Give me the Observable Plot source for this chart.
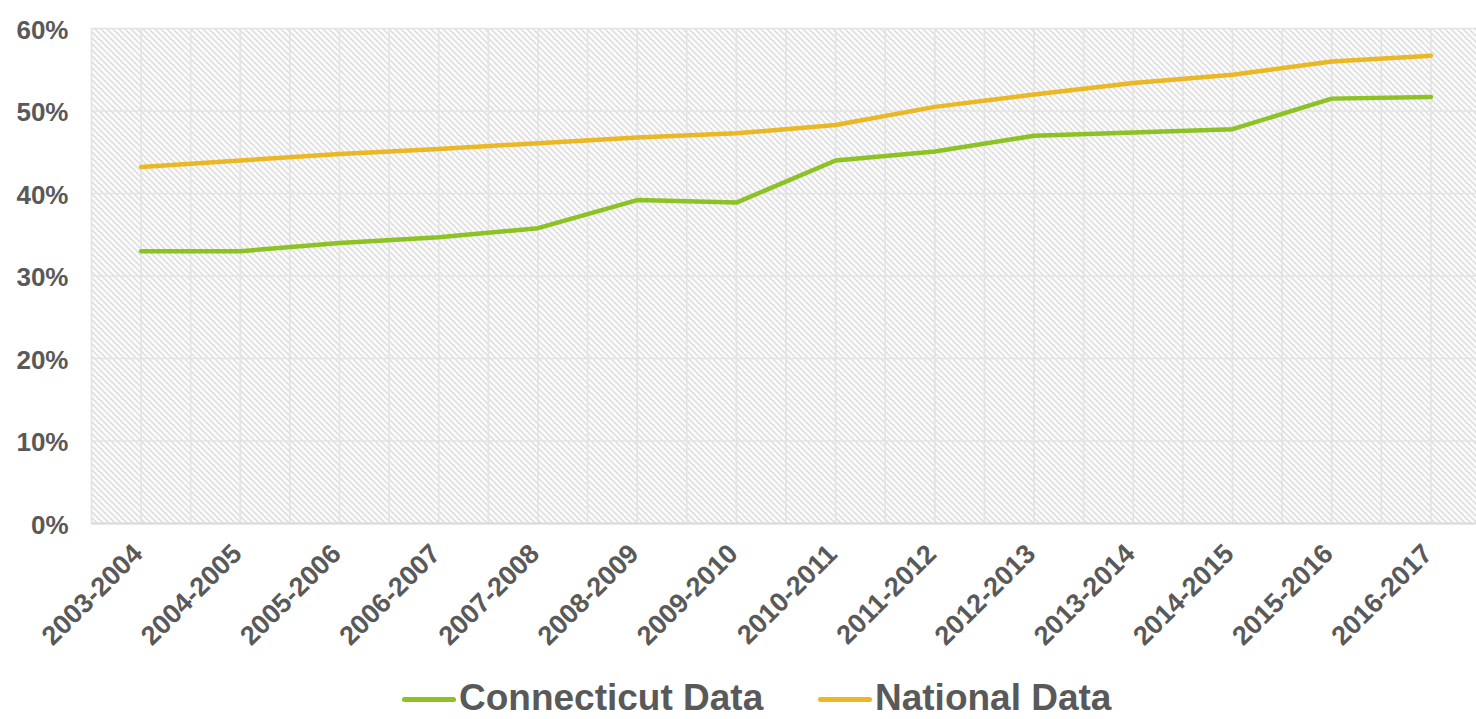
<!DOCTYPE html>
<html>
<head>
<meta charset="utf-8">
<script src="https://cdn.jsdelivr.net/npm/d3@7"></script>
<script src="https://cdn.jsdelivr.net/npm/@observablehq/plot@0.6"></script>
<style>
  html, body { margin: 0; padding: 0; background: #fff; }
  #wrap { width: 1476px; height: 719px; position: relative; overflow: hidden; }
  #legend { position: absolute; left: 0; top: 677px; height: 42px; width: 1476px;
    font-family: "Liberation Sans", Arial, sans-serif; font-weight: bold; font-size: 37px; color: #595959; }
  .item { position: absolute; top: 0; height: 42px; display: flex; align-items: center; white-space: nowrap; }
  .swatch { width: 54px; height: 5px; border-radius: 2.5px; margin-right: 3px; margin-top: 2px; }
  .lab { line-height: normal; }
</style>
</head>
<body>
<div id="wrap"><div id="chart"></div><div id="legend"></div></div>
<script>
const categories = ["2003-2004","2004-2005","2005-2006","2006-2007","2007-2008","2008-2009","2009-2010","2010-2011","2011-2012","2012-2013","2013-2014","2014-2015","2015-2016","2016-2017"];
const connecticut = [33.0, 33.0, 34.0, 34.7, 35.8, 39.2, 38.9, 44.0, 45.1, 47.0, 47.4, 47.8, 51.5, 51.7];
const national = [43.2, 44.0, 44.8, 45.4, 46.1, 46.8, 47.3, 48.3, 50.5, 52.0, 53.4, 54.4, 56.0, 56.7];
const yTicks = [0, 10, 20, 30, 40, 50, 60];
const seriesNames = ["Connecticut Data", "National Data"];
const seriesColors = ["#8cc224", "#e9b824"];

const ctData = categories.map((c, i) => ({i, v: connecticut[i]}));
const natData = categories.map((c, i) => ({i, v: national[i]}));
const gridX = d3.range(-0.5, categories.length, 0.5);

const hatchDefs = () => {
  const defs = d3.create("svg:defs");
  const p = defs.append("pattern").attr("id", "hatch").attr("patternUnits", "userSpaceOnUse")
    .attr("width", 6).attr("height", 6);
  p.append("rect").attr("width", 6).attr("height", 6).attr("fill", "#ffffff");
  p.append("path").attr("d", "M0,0L6,6M-1,5L1,7M5,-1L7,1")
    .attr("stroke", "#d2d2d2").attr("stroke-width", 1.3).attr("fill", "none");
  return defs.node();
};

const chart = Plot.plot({
  width: 1476,
  height: 672,
  marginTop: 28,
  marginBottom: 149,
  marginLeft: 91,
  marginRight: -4,
  style: {fontFamily: "'Liberation Sans', Arial, sans-serif", fontSize: "26px", fontWeight: "bold", color: "#595959", background: "#fff"},
  x: {type: "linear", domain: [-0.5, categories.length - 0.5], axis: null},
  y: {domain: [0, 60], axis: null},
  marks: [
    hatchDefs,
    Plot.frame({fill: "url(#hatch)", stroke: null}),
    Plot.ruleX(gridX, {stroke: "#e3e3e3", strokeWidth: 1.6}),
    Plot.ruleY(yTicks, {stroke: "#e3e3e3", strokeWidth: 1.6}),
    Plot.ruleY([0], {stroke: "#d9d9d9", strokeWidth: 2}),
    Plot.line(ctData, {x: "i", y: "v", stroke: seriesColors[0], strokeWidth: 4.5}),
    Plot.line(natData, {x: "i", y: "v", stroke: seriesColors[1], strokeWidth: 4.5}),
    Plot.axisY(yTicks, {tickSize: 0, tickPadding: 23, tickFormat: d => d + "%", fill: "#595959", dy: 2, label: null}),
    Plot.text(categories, {x: (d, i) => i, frameAnchor: "bottom", rotate: -45, textAnchor: "end", dx: 3, dy: 32, fontSize: 27, fill: "#595959"})
  ]
});
document.getElementById("chart").appendChild(chart);

const legend = document.getElementById("legend");
const lefts = [402, 818];
seriesNames.forEach((name, k) => {
  const item = document.createElement("div");
  item.className = "item";
  item.style.left = lefts[k] + "px";
  const sw = document.createElement("div");
  sw.className = "swatch";
  sw.style.background = seriesColors[k];
  const lab = document.createElement("span");
  lab.className = "lab";
  lab.textContent = name;
  item.appendChild(sw);
  item.appendChild(lab);
  legend.appendChild(item);
});
</script>
</body>
</html>
